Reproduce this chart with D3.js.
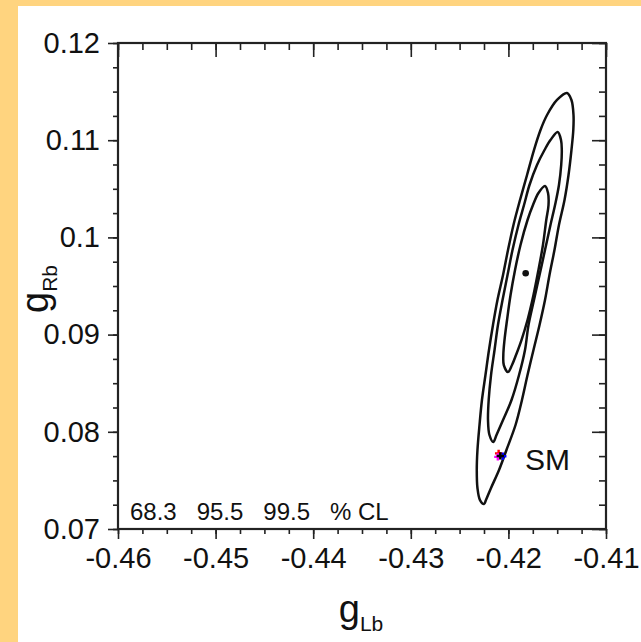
<!DOCTYPE html>
<html>
<head>
<meta charset="utf-8">
<script src="https://cdn.jsdelivr.net/npm/d3@7"></script>
<style>
  body { margin: 0; background: #ffd47f; }
  svg { display: block; }
  text { font-family: "Liberation Sans", Arial, Helvetica, sans-serif; fill: #111; }
</style>
</head>
<body>
<svg id="chart"></svg>
<script>
// axis ticks
var xTicks = [-0.46, -0.45, -0.44, -0.43, -0.42, -0.41];
var yTicks = [0.07, 0.08, 0.09, 0.1, 0.11, 0.12];
var clLabels = ["68.3", "95.5", "99.5", "% CL"];

// contours [gLb, gRb] (top tip, down the right side, up the left side)
var contour68 = [
    [-0.41625, 0.10529], [-0.41594, 0.10457], [-0.41589, 0.10333], [-0.41612, 0.10179],
    [-0.41646, 0.09922], [-0.41692, 0.09665], [-0.41743, 0.09407], [-0.41804, 0.09150],
    [-0.41866, 0.08944], [-0.41922, 0.08790], [-0.41963, 0.08687], [-0.42004, 0.08615],
    [-0.42047, 0.08687], [-0.42052, 0.08790], [-0.42040, 0.08944], [-0.42014, 0.09150],
    [-0.41978, 0.09407], [-0.41932, 0.09665], [-0.41876, 0.09922], [-0.41804, 0.10179],
    [-0.41748, 0.10333], [-0.41692, 0.10457]
];
var contour95 = [
    [-0.41495, 0.11084], [-0.41461, 0.11002], [-0.41453, 0.10899], [-0.41459, 0.10745],
    [-0.41482, 0.10539], [-0.41522, 0.10333], [-0.41569, 0.10128], [-0.41625, 0.09870],
    [-0.41681, 0.09613], [-0.41738, 0.09356], [-0.41794, 0.09099], [-0.41830, 0.08842],
    [-0.41891, 0.08584], [-0.41968, 0.08327], [-0.42055, 0.08121], [-0.42122, 0.07967],
    [-0.42155, 0.07895], [-0.42194, 0.07967], [-0.42209, 0.08121], [-0.42202, 0.08327],
    [-0.42178, 0.08584], [-0.42142, 0.08842], [-0.42107, 0.09099], [-0.42060, 0.09356],
    [-0.42009, 0.09613], [-0.41958, 0.09870], [-0.41897, 0.10128], [-0.41840, 0.10333],
    [-0.41784, 0.10539], [-0.41707, 0.10745], [-0.41630, 0.10899], [-0.41569, 0.11002]
];
var contour99 = [
    [-0.41400, 0.11486], [-0.41354, 0.11414], [-0.41333, 0.11259], [-0.41335, 0.11105],
    [-0.41354, 0.10899], [-0.41384, 0.10642], [-0.41425, 0.10385], [-0.41482, 0.10128],
    [-0.41528, 0.09870], [-0.41579, 0.09613], [-0.41625, 0.09356], [-0.41681, 0.09099],
    [-0.41743, 0.08842], [-0.41804, 0.08584], [-0.41861, 0.08327], [-0.41927, 0.08070],
    [-0.42020, 0.07813], [-0.42096, 0.07607], [-0.42178, 0.07422], [-0.42230, 0.07298],
    [-0.42250, 0.07257], [-0.42291, 0.07298], [-0.42317, 0.07422], [-0.42324, 0.07607],
    [-0.42317, 0.07813], [-0.42296, 0.08070], [-0.42271, 0.08327], [-0.42235, 0.08584],
    [-0.42199, 0.08842], [-0.42158, 0.09099], [-0.42112, 0.09356], [-0.42055, 0.09613],
    [-0.42004, 0.09870], [-0.41948, 0.10128], [-0.41881, 0.10385], [-0.41809, 0.10642],
    [-0.41738, 0.10899], [-0.41671, 0.11105], [-0.41604, 0.11259], [-0.41502, 0.11414]
];
var bestFit = [-0.41823, 0.09631];
var smPoints = [
    {gLb: -0.42100, gRb: 0.07778, color: "red"},
    {gLb: -0.42108, gRb: 0.07742, color: "magenta"},
    {gLb: -0.42058, gRb: 0.07748, color: "blue"},
    {gLb: -0.42083, gRb: 0.07752, color: "black"}
];

var w = 641, h = 642;
var pLeft = 118, pRight = 606, pTop = 43, pBottom = 529;

var svg = d3.select("#chart").attr("width", w).attr("height", h);
svg.append("rect").attr("x", 18).attr("y", 6).attr("width", w - 18).attr("height", h - 6).attr("fill", "white");

var x = d3.scaleLinear().domain([-0.46, -0.41]).range([pLeft, pRight]);
var y = d3.scaleLinear().domain([0.07, 0.12]).range([pBottom, pTop]);

var fmt = function (d) { return String(+d.toFixed(2)); };
var xMinor = d3.range(0, 21).map(function (i) { return -0.46 + i * 0.0025; });
var yMinor = d3.range(0, 21).map(function (i) { return 0.07 + i * 0.0025; });

function styleAxis(g) {
    g.select(".domain").remove();
    g.selectAll("line").attr("stroke", "#222").attr("stroke-width", 1.6);
    g.selectAll("text").attr("font-size", 29).attr("fill", "#111");
}

// bottom / left: ticks outward with labels
svg.append("g").attr("transform", "translate(0," + pBottom + ")")
    .call(d3.axisBottom(x).tickValues(xMinor).tickFormat("").tickSize(5)).call(styleAxis);
svg.append("g").attr("transform", "translate(0," + pBottom + ")")
    .call(d3.axisBottom(x).tickValues(xTicks).tickFormat(fmt).tickSize(10).tickPadding(8)).call(styleAxis);
svg.append("g").attr("transform", "translate(" + pLeft + ",0)")
    .call(d3.axisLeft(y).tickValues(yMinor).tickFormat("").tickSize(5)).call(styleAxis);
svg.append("g").attr("transform", "translate(" + pLeft + ",0)")
    .call(d3.axisLeft(y).tickValues(yTicks).tickFormat(fmt).tickSize(10).tickPadding(8)).call(styleAxis);

// top / right: ticks inward, no labels
svg.append("g").attr("transform", "translate(0," + pTop + ")")
    .call(d3.axisTop(x).tickValues(xMinor).tickFormat("").tickSize(-7)).call(styleAxis);
svg.append("g").attr("transform", "translate(0," + pTop + ")")
    .call(d3.axisTop(x).tickValues(xTicks).tickFormat("").tickSize(-14)).call(styleAxis);
svg.append("g").attr("transform", "translate(" + pRight + ",0)")
    .call(d3.axisRight(y).tickValues(yMinor).tickFormat("").tickSize(-7)).call(styleAxis);
svg.append("g").attr("transform", "translate(" + pRight + ",0)")
    .call(d3.axisRight(y).tickValues(yTicks).tickFormat("").tickSize(-14)).call(styleAxis);

svg.append("rect")
    .attr("x", pLeft).attr("y", pTop)
    .attr("width", pRight - pLeft).attr("height", pBottom - pTop)
    .attr("fill", "none").attr("stroke", "#222").attr("stroke-width", 2.2);

// contours
var line = d3.line()
    .x(function (d) { return x(d[0]); })
    .y(function (d) { return y(d[1]); })
    .curve(d3.curveCatmullRomClosed.alpha(0.5));
svg.selectAll(".contour")
    .data([contour68, contour95, contour99])
    .enter().append("path")
    .attr("class", "contour")
    .attr("d", line)
    .attr("fill", "none")
    .attr("stroke", "#111")
    .attr("stroke-width", 2.5);

svg.append("circle")
    .attr("cx", x(bestFit[0])).attr("cy", y(bestFit[1]))
    .attr("r", 3.3).attr("fill", "#111");

// SM points
svg.selectAll(".sm")
    .data(smPoints)
    .enter().append("path")
    .attr("class", "sm")
    .attr("transform", function (d) { return "translate(" + x(d.gLb) + "," + y(d.gRb) + ")"; })
    .attr("d", d3.symbol().type(d3.symbolCross).size(30))
    .attr("fill", function (d) { return d.color; });

svg.append("text")
    .attr("x", 525).attr("y", 470)
    .attr("font-size", 30)
    .text("SM");

// CL legend
var clx = d3.scalePoint().domain(clLabels).range([130, 330]);
svg.selectAll(".cl")
    .data(clLabels)
    .enter().append("text")
    .attr("class", "cl")
    .attr("x", function (d) { return clx(d); })
    .attr("y", 520)
    .attr("font-size", 24)
    .text(function (d) { return d; });

// axis titles
var xt = svg.append("text").attr("x", 361).attr("y", 622).attr("text-anchor", "middle");
xt.append("tspan").attr("font-size", 38).text("g");
xt.append("tspan").attr("font-size", 21).attr("dy", 9).text("Lb");

var yt = svg.append("text")
    .attr("transform", "translate(48,289) rotate(-90)")
    .attr("text-anchor", "middle");
yt.append("tspan").attr("font-size", 38).text("g");
yt.append("tspan").attr("font-size", 21).attr("dy", 9).text("Rb");
</script>
</body>
</html>
